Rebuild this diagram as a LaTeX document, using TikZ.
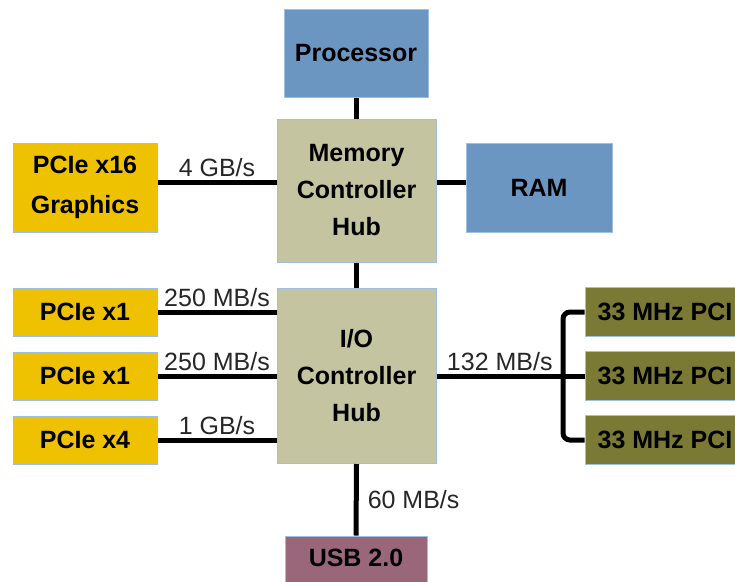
\documentclass[tikz,border=0pt]{standalone}
\usepackage{fontspec}
\setmainfont{Liberation Sans}
\begin{document}
\begin{tikzpicture}[x=1pt,y=-1pt,
  box/.style={draw=edgeblue, line width=1pt, inner sep=0pt, align=center,
    font=\fontsize{25}{37}\selectfont\bfseries, text=black},
  bluebox/.style={box, fill=cpublue},
  hubbox/.style={box, fill=hubtan},
  cardbox/.style={box, fill=cardgold},
  pcibox/.style={box, fill=pciolive},
  usbbox/.style={box, fill=usbmauve},
  bus/.style={line width=5pt, black},
  lbl/.style={font=\fontsize{25}{30}\selectfont, text=black!85, anchor=base, yshift=6pt, inner sep=0pt}
]
\definecolor{edgeblue}{RGB}{160,190,225}
\definecolor{cpublue}{RGB}{108,150,194}
\definecolor{hubtan}{RGB}{196,196,160}
\definecolor{cardgold}{RGB}{238,194,0}
\definecolor{pciolive}{RGB}{122,122,52}
\definecolor{usbmauve}{RGB}{154,102,122}

\useasboundingbox (0,0) rectangle (735,581);
\clip (0,0) rectangle (735,581);

% chipset hubs and devices
\node[bluebox, minimum width=144pt, minimum height=88pt] (proc) at (356,53) {Processor};
\node[hubbox, minimum width=159pt, minimum height=143pt] (mch) at (356.5,190.5) {Memory\\Controller\\Hub};
\node[hubbox, minimum width=159pt, minimum height=175pt] (ich) at (356.5,376) {I/O\\Controller\\Hub};
\node[bluebox, minimum width=146pt, minimum height=89pt] (ram) at (539,187.5) {RAM};
\node[cardbox, minimum width=144pt, minimum height=89pt, font=\fontsize{25}{40}\selectfont\bfseries] (gfx) at (85,187.5) {PCIe x16\\Graphics};
\node[cardbox, minimum width=144pt, minimum height=48pt] (x1a) at (85,312) {PCIe x1};
\node[cardbox, minimum width=144pt, minimum height=48pt] (x1b) at (85,376) {PCIe x1};
\node[cardbox, minimum width=144pt, minimum height=48pt] (x4) at (85,440) {PCIe x4};
\node[pcibox, minimum width=160pt, minimum height=49pt] (pci1) at (665,312) {33 MHz PCI};
\node[pcibox, minimum width=160pt, minimum height=49pt] (pci2) at (665,376) {33 MHz PCI};
\node[pcibox, minimum width=160pt, minimum height=49pt] (pci3) at (665,440) {33 MHz PCI};
\node[usbbox, minimum width=142pt, minimum height=48pt] (usb) at (356,560) {\raisebox{4pt}{USB 2.0}};

% links
\draw[bus] (proc.south) -- (proc.south |- mch.north);
\draw[bus] ([yshift=5pt]gfx.east) -- node[lbl]{4 GB/s} ([yshift=5pt]gfx.east -| mch.west);
\draw[bus] ([yshift=5pt]ram.west -| mch.east) -- ([yshift=5pt]ram.west);
\draw[bus] (mch.south) -- (ich.north);
\draw[bus] (x1a.east) -- node[lbl]{250 MB/s} (x1a.east -| ich.west);
\draw[bus] (x1b.east) -- node[lbl]{250 MB/s} (x1b.east -| ich.west);
\draw[bus] (x4.east) -- node[lbl]{1 GB/s} (x4.east -| ich.west);
\coordinate (pcibus) at (563,376);
\draw[bus] (ich.east) -- node[lbl]{132 MB/s} (ich.east -| pcibus) -- (pci2.west);
\draw[bus, rounded corners=7pt] (pci1.west) -- (pci1.west -| pcibus) |- (pci3.west);
\draw[bus] (ich.south) -- node[anchor=west, xshift=9pt, font=\fontsize{25}{30}\selectfont, text=black!85, inner sep=0pt]{60 MB/s} (usb.north);
\end{tikzpicture}
\end{document}
